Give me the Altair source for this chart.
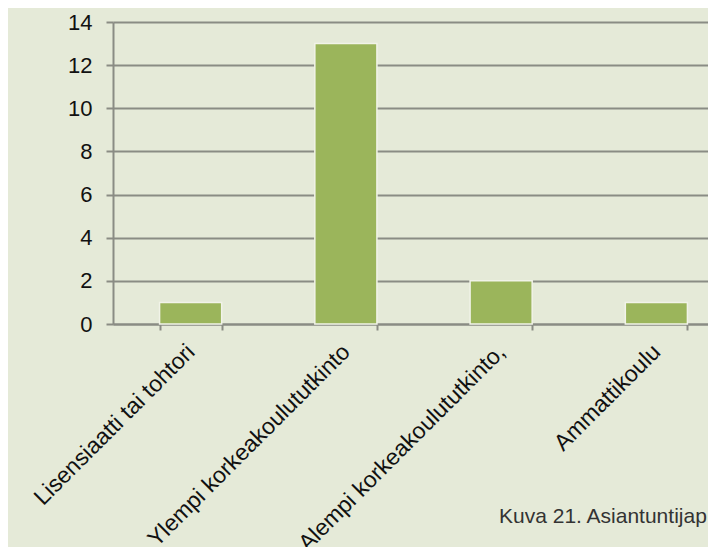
import altair as alt
import pandas as pd

categories = [
    "Lisensiaatti tai tohtori",
    "Ylempi korkeakoulututkinto",
    "Alempi korkeakoulututkinto,",
    "Ammattikoulu",
]
values = [1, 13, 2, 1]
y_ticks = [0, 2, 4, 6, 8, 10, 12, 14]
caption = ["Kuva 21. Asiantuntijap"]

FONT = "Liberation Sans"
GRID = "#8a8c84"
BG = "#e5ead8"

df = pd.DataFrame({"koulutus": categories, "lkm": values})

bars = alt.Chart(df).mark_bar(
    color="#9bb55b", stroke="#f1f3e8", strokeWidth=1.5
).encode(
    x=alt.X(
        "koulutus:N",
        sort=categories,
        title=None,
        scale=alt.Scale(range=[0, 621], paddingInner=0.6, paddingOuter=0.3),
        axis=alt.Axis(
            labelAngle=-45,
            labelAlign="right",
            labelBaseline="middle",
            tickBand="extent",
            tickSize=6,
            tickWidth=2,
            tickColor=GRID,
            domainColor=GRID,
            domainWidth=2,
            labelFont=FONT,
            labelFontSize=23,
            labelColor="#111111",
            labelPadding=18,
            labelLimit=0,
            labelOverlap=False,
            grid=False,
        ),
    ),
    y=alt.Y(
        "lkm:Q",
        title=None,
        scale=alt.Scale(domain=[0, 14], nice=False),
        axis=alt.Axis(
            values=y_ticks,
            grid=True,
            gridColor=GRID,
            gridWidth=2,
            gridOpacity=1,
            tickSize=7,
            tickWidth=2,
            tickColor=GRID,
            domainColor=GRID,
            domainWidth=2,
            labelFont=FONT,
            labelFontSize=22,
            labelColor="#111111",
            labelPadding=14,
        ),
    ),
)

cap = alt.Chart(pd.DataFrame({"t": caption})).mark_text(
    align="left", baseline="alphabetic", fontSize=21, font=FONT, color="#333333"
).encode(x=alt.value(386), y=alt.value(501), text="t:N")

chart = alt.layer(bars, cap).properties(
    width=595,
    height=302,
    autosize=alt.AutoSizeParams(type="none"),
    padding={"left": 105, "top": 14, "right": 0, "bottom": 223},
    background=BG,
).configure_view(strokeWidth=0)

chart.save("out.html", embed_options={"renderer": "svg", "actions": False})
